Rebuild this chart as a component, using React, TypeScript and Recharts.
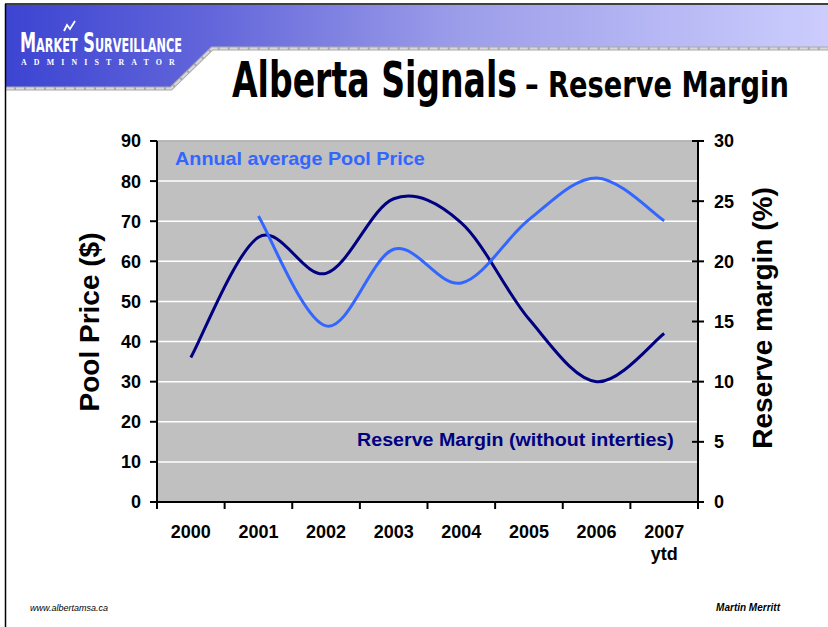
import React, { useLayoutEffect, useRef, useState } from 'react';
import { LineChart, Line, XAxis, YAxis, CartesianGrid, ReferenceLine } from 'recharts';

const years = ['2000', '2001', '2002', '2003', '2004', '2005', '2006', '2007'];
const yearSubLabels = ['', '', '', '', '', '', '', 'ytd'];
const reserveMargin = [12.0, 22.0, 19.0, 25.2, 23.2, 15.2, 10.0, 14.0];
const poolPrice: (number | null)[] = [null, 71.3, 43.9, 63.0, 54.6, 70.4, 80.8, 70.1];
const leftTicks = [0, 10, 20, 30, 40, 50, 60, 70, 80, 90];
const rightTicks = [0, 5, 10, 15, 20, 25, 30];
const xTicks = [0, 0.5, 1, 1.5, 2, 2.5, 3, 3.5, 4, 4.5, 5, 5.5, 6, 6.5, 7, 7.5, 8];

const data = years.map((y, i) => ({
  x: i + 0.5,
  year: y,
  reserve: reserveMargin[i],
  price: poolPrice[i],
}));

const ARIAL = "'Liberation Sans', Arial, sans-serif";
const NARROW = "'Liberation Sans Narrow', 'DejaVu Sans Condensed', 'Liberation Sans', sans-serif";

// Excel-like smoothed line (Catmull-Rom style Bezier)
const excelSmooth = (context: any) => {
  let pts: number[][] = [];
  return {
    areaStart() {},
    areaEnd() {},
    lineStart() {
      pts = [];
    },
    point(x: number, y: number) {
      pts.push([+x, +y]);
    },
    lineEnd() {
      const n = pts.length;
      if (n === 0) return;
      context.moveTo(pts[0][0], pts[0][1]);
      if (n === 1) return;
      const t = 1 / 6;
      for (let i = 0; i < n - 1; i++) {
        const p0 = pts[i - 1] || pts[i];
        const p1 = pts[i];
        const p2 = pts[i + 1];
        const p3 = pts[i + 2] || pts[i + 1];
        context.bezierCurveTo(
          p1[0] + (p2[0] - p0[0]) * t,
          p1[1] + (p2[1] - p0[1]) * t,
          p2[0] - (p3[0] - p1[0]) * t,
          p2[1] - (p3[1] - p1[1]) * t,
          p2[0],
          p2[1]
        );
      }
    },
  };
};

// Text horizontally scaled (via transform) to fill a target width
const FitText = (props: any) => {
  const { x, y, width, children, ...rest } = props;
  const ref = useRef<SVGTextElement>(null);
  const [s, setS] = useState(1);
  useLayoutEffect(() => {
    if (ref.current) {
      const w = ref.current.getComputedTextLength();
      if (w > 0) setS(width / w);
    }
  }, [width]);
  return (
    <text ref={ref} x={0} y={0} transform={`translate(${x},${y}) scale(${s},1)`} {...rest}>
      {children}
    </text>
  );
};

const XTick = (props: any) => {
  const { x, y, payload } = props;
  const v = payload.value;
  if (Number.isInteger(v)) {
    return <line x1={x} x2={x} y1={y} y2={y + 7} stroke="#000" strokeWidth={2} />;
  }
  const i = Math.floor(v);
  return (
    <g>
      <text x={x} y={y + 36} textAnchor="middle" fontFamily={ARIAL} fontWeight="bold" fontSize={18} fill="#000">
        {years[i]}
      </text>
      {yearSubLabels[i] ? (
        <text x={x} y={y + 58} textAnchor="middle" fontFamily={ARIAL} fontWeight="bold" fontSize={18} fill="#000">
          {yearSubLabels[i]}
        </text>
      ) : null}
    </g>
  );
};

const LeftTick = (props: any) => {
  const { x, y, payload } = props;
  return (
    <g>
      <line x1={x - 7} x2={x} y1={y} y2={y} stroke="#000" strokeWidth={2} />
      <text x={x - 16} y={y} dy="0.36em" textAnchor="end" fontFamily={ARIAL} fontWeight="bold" fontSize={18} fill="#000">
        {payload.value}
      </text>
    </g>
  );
};

const RightTick = (props: any) => {
  const { x, y, payload } = props;
  return (
    <g>
      <line x1={x - 6} x2={x + 6} y1={y} y2={y} stroke="#000" strokeWidth={2} />
      <text x={x + 16} y={y} dy="0.36em" textAnchor="start" fontFamily={ARIAL} fontWeight="bold" fontSize={18} fill="#000">
        {payload.value}
      </text>
    </g>
  );
};

export default function App() {
  return (
    <div style={{ position: 'absolute', left: 0, top: 0, width: 828, height: 627, background: '#fff', overflow: 'hidden' }}>
      <svg width={828} height={627} style={{ position: 'absolute', left: 0, top: 0 }}>
        <defs>
          <linearGradient id="hdr" x1="0" y1="0" x2="1" y2="0">
            <stop offset="0" stopColor="#3c44d2" />
            <stop offset="0.25" stopColor="#6366da" />
            <stop offset="0.55" stopColor="#9c9de9" />
            <stop offset="1" stopColor="#cccdfd" />
          </linearGradient>
        </defs>
        <polygon points="6,5 828,5 828,47 212,47 171,87 6,87" fill="url(#hdr)" />
        <polyline points="6,88.5 171,88.5 212,48.5 828,48.5" fill="none" stroke="#a9a9a9" strokeWidth={4} />
        <polyline points="6,88.5 171,88.5 212,48.5 828,48.5" fill="none" stroke="#d9d9d9" strokeWidth={2} strokeDasharray="8 2" />
        <line x1={5} x2={828} y1={4} y2={4} stroke="#000" strokeWidth={1.5} />
        <line x1={5.5} x2={5.5} y1={4} y2={627} stroke="#000" strokeWidth={1.5} />
      </svg>
      <div style={{ position: 'absolute', left: 0, top: 0 }}>
        <LineChart width={828} height={627} data={data} margin={{ top: 141, right: 90, bottom: 95, left: 117 }}>
          <CartesianGrid yAxisId="left" vertical={false} stroke="#ffffff" strokeWidth={1.5} fill="#c0c0c0" fillOpacity={1} />
          <ReferenceLine yAxisId="left" y={90} stroke="#a0a0a0" strokeWidth={1.5} />
          <XAxis
            dataKey="x"
            type="number"
            domain={[0, 8]}
            allowDataOverflow
            ticks={xTicks}
            interval={0}
            tickSize={0}
            tickMargin={0}
            tickLine={false}
            tick={XTick}
            height={30}
            axisLine={{ stroke: '#000', strokeWidth: 2 }}
          />
          <YAxis
            yAxisId="left"
            orientation="left"
            domain={[0, 90]}
            ticks={leftTicks}
            interval={0}
            allowDataOverflow
            tickSize={0}
            tickMargin={0}
            tickLine={false}
            tick={LeftTick}
            width={40}
            axisLine={{ stroke: '#000', strokeWidth: 2 }}
          />
          <YAxis
            yAxisId="right"
            orientation="right"
            domain={[0, 30]}
            ticks={rightTicks}
            interval={0}
            allowDataOverflow
            tickSize={0}
            tickMargin={0}
            tickLine={false}
            tick={RightTick}
            width={40}
            axisLine={{ stroke: '#000', strokeWidth: 2 }}
          />
          <Line
            yAxisId="right"
            dataKey="reserve"
            type={excelSmooth as any}
            stroke="#000080"
            strokeWidth={3}
            dot={false}
            activeDot={false}
            isAnimationActive={false}
          />
          <Line
            yAxisId="left"
            dataKey="price"
            type={excelSmooth as any}
            stroke="#3366ff"
            strokeWidth={3}
            dot={false}
            activeDot={false}
            connectNulls={false}
            isAnimationActive={false}
          />
        </LineChart>
      </div>
      <svg width={828} height={627} style={{ position: 'absolute', left: 0, top: 0, pointerEvents: 'none' }}>
        {/* logo */}
        <FitText x={20} y={52} width={163} fill="#fff" fontFamily={NARROW} fontWeight="bold" fontSize={27} fontVariant="small-caps">
          Market Surveillance
        </FitText>
        <polyline points="64,31 67,25 70,29 75,21" fill="none" stroke="#fff" strokeWidth={1.8} />
        <FitText x={21} y={65} width={161} fill="#fff" fontFamily="'Liberation Serif', 'DejaVu Serif', serif" fontWeight="bold" fontSize={8} letterSpacing={7.2}>
          ADMINISTRATOR
        </FitText>
        {/* title */}
        <FitText x={232} y={97} width={285} fill="#000" fontFamily={NARROW} fontWeight="bold" fontSize={49}>
          Alberta Signals
        </FitText>
        <FitText x={525} y={97} width={264} fill="#000" fontFamily={NARROW} fontWeight="bold" fontSize={36}>
          – Reserve Margin
        </FitText>
        {/* in-plot labels */}
        <FitText x={175} y={165} width={250} fill="#3366ff" fontFamily={ARIAL} fontWeight="bold" fontSize={18}>
          Annual average Pool Price
        </FitText>
        <FitText x={357} y={446} width={317} fill="#000080" fontFamily={ARIAL} fontWeight="bold" fontSize={18}>
          Reserve Margin (without interties)
        </FitText>
        {/* axis titles */}
        <text transform="translate(99,322) rotate(-90)" textAnchor="middle" fill="#000" fontFamily={ARIAL} fontWeight="bold" fontSize={28}>
          Pool Price ($)
        </text>
        <text transform="translate(772,318) rotate(-90)" textAnchor="middle" fill="#000" fontFamily={ARIAL} fontWeight="bold" fontSize={28}>
          Reserve margin (%)
        </text>
        {/* footer */}
        <text x={30} y={611} fill="#000" fontFamily={ARIAL} fontStyle="italic" fontSize={9}>
          www.albertamsa.ca
        </text>
        <text x={780} y={611} textAnchor="end" fill="#000" fontFamily={ARIAL} fontStyle="italic" fontWeight="bold" fontSize={10}>
          Martin Merritt
        </text>
      </svg>
    </div>
  );
}
